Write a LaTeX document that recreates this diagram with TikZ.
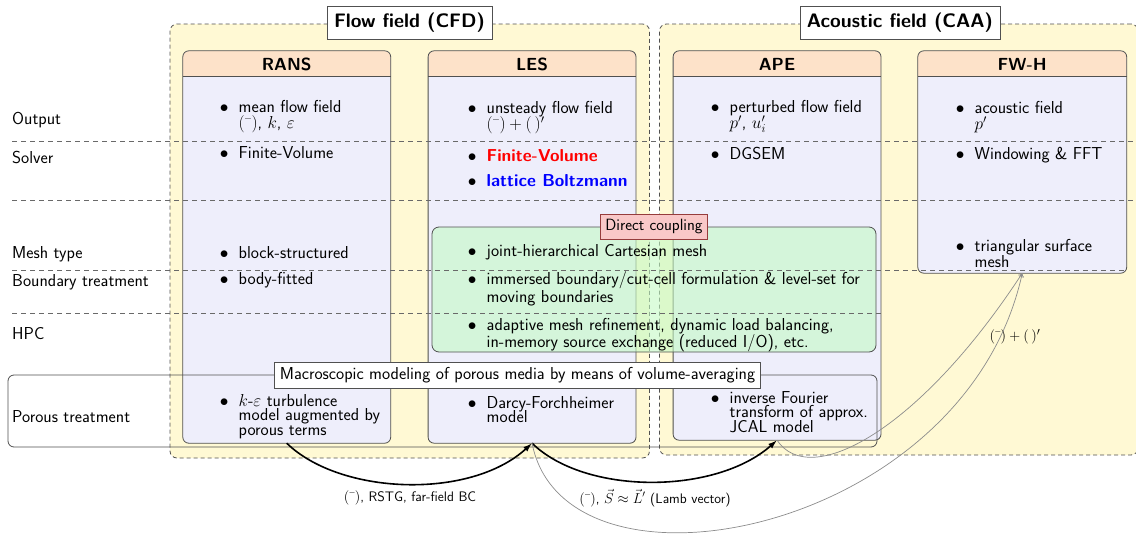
\documentclass[tikz,border=0pt]{standalone}
\usepackage{fontspec}
\usetikzlibrary{arrows.meta,fit}
\renewcommand\familydefault{\sfdefault}
\definecolor{bgyel}{RGB}{255,249,212}
\definecolor{hdrc}{RGB}{253,226,201}
\definecolor{bodyc}{RGB}{238,238,251}
\definecolor{grnc}{RGB}{196,250,196}
\definecolor{pnkc}{RGB}{249,200,200}
\definecolor{pnkb}{RGB}{150,60,60}
\definecolor{bord}{RGB}{80,80,80}
\definecolor{rowgray}{RGB}{105,105,105}
\definecolor{grayarrc}{RGB}{140,140,140}
\newcommand\avg{(\mkern1mu\bar{\mkern5mu}\mkern1mu)}
\tikzset{
  field/.style={draw=bord, dash pattern=on 4pt off 3pt, line width=0.8pt, fill=bgyel, rounded corners=7pt, inner sep=0pt},
  fieldtitle/.style={draw=bord, fill=white, line width=0.8pt, font=\fontsize{19.5}{22}\selectfont\bfseries, inner xsep=7pt, inner ysep=0pt, minimum height=32.6pt},
  colfill/.style={fill=bodyc, rounded corners=6pt, inner sep=0pt},
  colborder/.style={draw=bord, line width=0.8pt, rounded corners=6pt},
  hdrtext/.style={font=\fontsize{17.5}{19}\selectfont\bfseries, anchor=base, inner sep=0pt},
  rowlabel/.style={anchor=base west, inner sep=0pt, font=\fontsize{17.3}{19}\selectfont},
  rowline/.style={draw=rowgray, line width=0.8pt, dash pattern=on 5pt off 4pt},
  itemnode/.style={anchor=base west, inner sep=0pt, font=\fontsize{17.3}{16.5}\selectfont},
  porfont/.style={font=\fontsize{17.3}{14.5}\selectfont},
  grnfont/.style={font=\fontsize{17.3}{17.5}\selectfont},
  greenbox/.style={draw=bord, line width=0.8pt, fill=grnc, fill opacity=0.6, rounded corners=7pt, inner sep=0pt},
  dclabel/.style={draw=pnkb, fill=pnkc, line width=0.8pt, font=\fontsize{16.3}{18}\selectfont, inner xsep=5pt, inner ysep=0pt, minimum height=25pt},
  macrolabel/.style={draw=bord, fill=white, line width=0.8pt, font=\fontsize{17.3}{19}\selectfont, inner xsep=5pt, inner ysep=0pt, minimum height=26pt},
  porbox/.style={draw=bord, line width=0.8pt, rounded corners=6pt, inner sep=0pt},
  thickarr/.style={draw=black, line width=1.6pt, -{Latex[length=9pt,width=6pt]}},
  grayarr/.style={draw=grayarrc, line width=0.7pt, -{To[length=4pt,width=5pt]}},
  smalllbl/.style={font=\fontsize{13.8}{15}\selectfont, inner sep=1pt},
}
\newcommand\colbox[5]{%
  \node[colfill, fit={(#2,51) (#3,#4)}] (#1) {};
  \begin{scope}
    \clip (#2,51) rectangle (#3,76);
    \fill[hdrc, rounded corners=6pt] (#2,51) rectangle (#3,#4);
  \end{scope}
  \draw[bord, line width=0.8pt] (#2,76) -- (#3,76);
  \draw[colborder] (#1.north west) rectangle (#1.south east);
  \node[hdrtext] (#1-t) at ({(#2+#3)/2},70) {#5};
}
\newcommand\itm[5][]{\node[itemnode,#1] (#2) at (#3,#4) {\makebox[0pt][c]{$\bullet$}\hspace{14.5pt}\vtop{\lineskiplimit=-20pt\let\\\cr\halign{##\hfil\cr #5\crcr}}};}
\begin{document}
\begin{tikzpicture}[x=1pt,y=-1pt]
\useasboundingbox (0,0) rectangle (1136,536);
% fields
\node[field, fit={(170,24) (649.5,458)}] (cfd) {};
\node[field, fit={(659.5,24) (1138,455)}] (caa) {};
\node[fieldtitle] (cfd-t) at (409.5,23) {Flow field (CFD)};
\node[fieldtitle] (caa-t) at (900,23) {Acoustic field (CAA)};
% columns
\colbox{rans}{183}{390.5}{443}{RANS}
\colbox{les}{428.3}{635.8}{443}{LES}
\colbox{ape}{673.3}{880.8}{440}{APE}
\colbox{fwh}{918}{1126.5}{273}{FW-H}
% direct coupling area
\node[greenbox, fit={(432,227) (876,352)}] (dc) {};
% row lines
\draw[rowline] (12,141) -- (1136,141);
\draw[rowline] (12,200) -- (1136,200);
\draw[rowline] (12,270) -- (1127,270);
\draw[rowline] (12,313) -- (882,313);
% row labels
\node[rowlabel] (l-out) at (12,124) {Output};
\node[rowlabel] (l-sol) at (12,163) {Solver};
\node[rowlabel] (l-mesh) at (12,258) {Mesh type};
\node[rowlabel] (l-bnd) at (12,286) {Boundary treatment};
\node[rowlabel] (l-hpc) at (12,339) {HPC};
\node[rowlabel] (l-por) at (12,422) {Porous treatment};
% RANS
\itm{r1}{224}{112}{mean flow field\\$\avg$, $k$, $\varepsilon$}
\itm{r2}{224}{158}{Finite-Volume}
\itm{r3}{224}{258}{block-structured}
\itm{r4}{224}{284}{body-fitted}
\itm[porfont]{r5}{224}{406}{$k$-$\varepsilon$ turbulence\\model augmented by\\porous terms}
% LES
\itm{e1}{472}{113}{unsteady flow field\\$\avg+(\,)'$}
\itm{e2}{472}{161}{\textcolor{red}{\textbf{Finite-Volume}}}
\itm{e3}{472}{186}{\textcolor{blue}{\textbf{lattice Boltzmann}}}
\itm{e4}{472}{256}{joint-hierarchical Cartesian mesh}
\itm[grnfont]{e5}{472}{284.5}{immersed boundary/cut-cell formulation \& level-set for\\moving boundaries}
\itm[grnfont]{e6}{472}{330}{adaptive mesh refinement, dynamic load balancing,\\in-memory source exchange (reduced I/O), etc.}
\itm[porfont]{e7}{472}{408}{Darcy-Forchheimer\\model}
% APE
\itm{a1}{715}{112}{perturbed flow field\\$p'$, $u_i'$}
\itm{a2}{715}{159}{DGSEM}
\itm[porfont]{a3}{715}{403}{inverse Fourier\\transform of approx.\\JCAL model}
% FW-H
\itm{f1}{960}{113}{acoustic field\\$p'$}
\itm{f2}{960}{159}{Windowing \& FFT}
\itm{f3}{960}{251}{triangular surface\\mesh}
% porous band
\node[porbox, fit={(8,375) (877,447)}] (pbox) {};
\node[macrolabel] (mac) at (517.5,375) {Macroscopic modeling of porous media by means of volume-averaging};
\node[dclabel] (dct) at (654,226.5) {Direct coupling};
% connectors
\draw[thickarr] (rans.south) .. controls (340,495) and (470,500) .. (les.south);
\draw[thickarr] (les.south) .. controls (585,495) and (715,495) .. (ape.south);
\draw[grayarr] (les.south) .. controls (565,612) and (965,535) .. (fwh.south);
\draw[grayarr] (ape.south) .. controls (810,490) and (920,430) .. (fwh.south);
\node[smalllbl] (lbl1) at (410,498) {$\avg$, RSTG, far-field BC};
\node[smalllbl] (lbl2) at (655,498) {$\avg$, $\vec{S}\approx\vec{L}'$ (Lamb vector)};
\node[font=\fontsize{15}{16}\selectfont, inner sep=1pt] (lbl3) at (1015,337) {$\avg+(\,)'$};
\end{tikzpicture}
\end{document}
